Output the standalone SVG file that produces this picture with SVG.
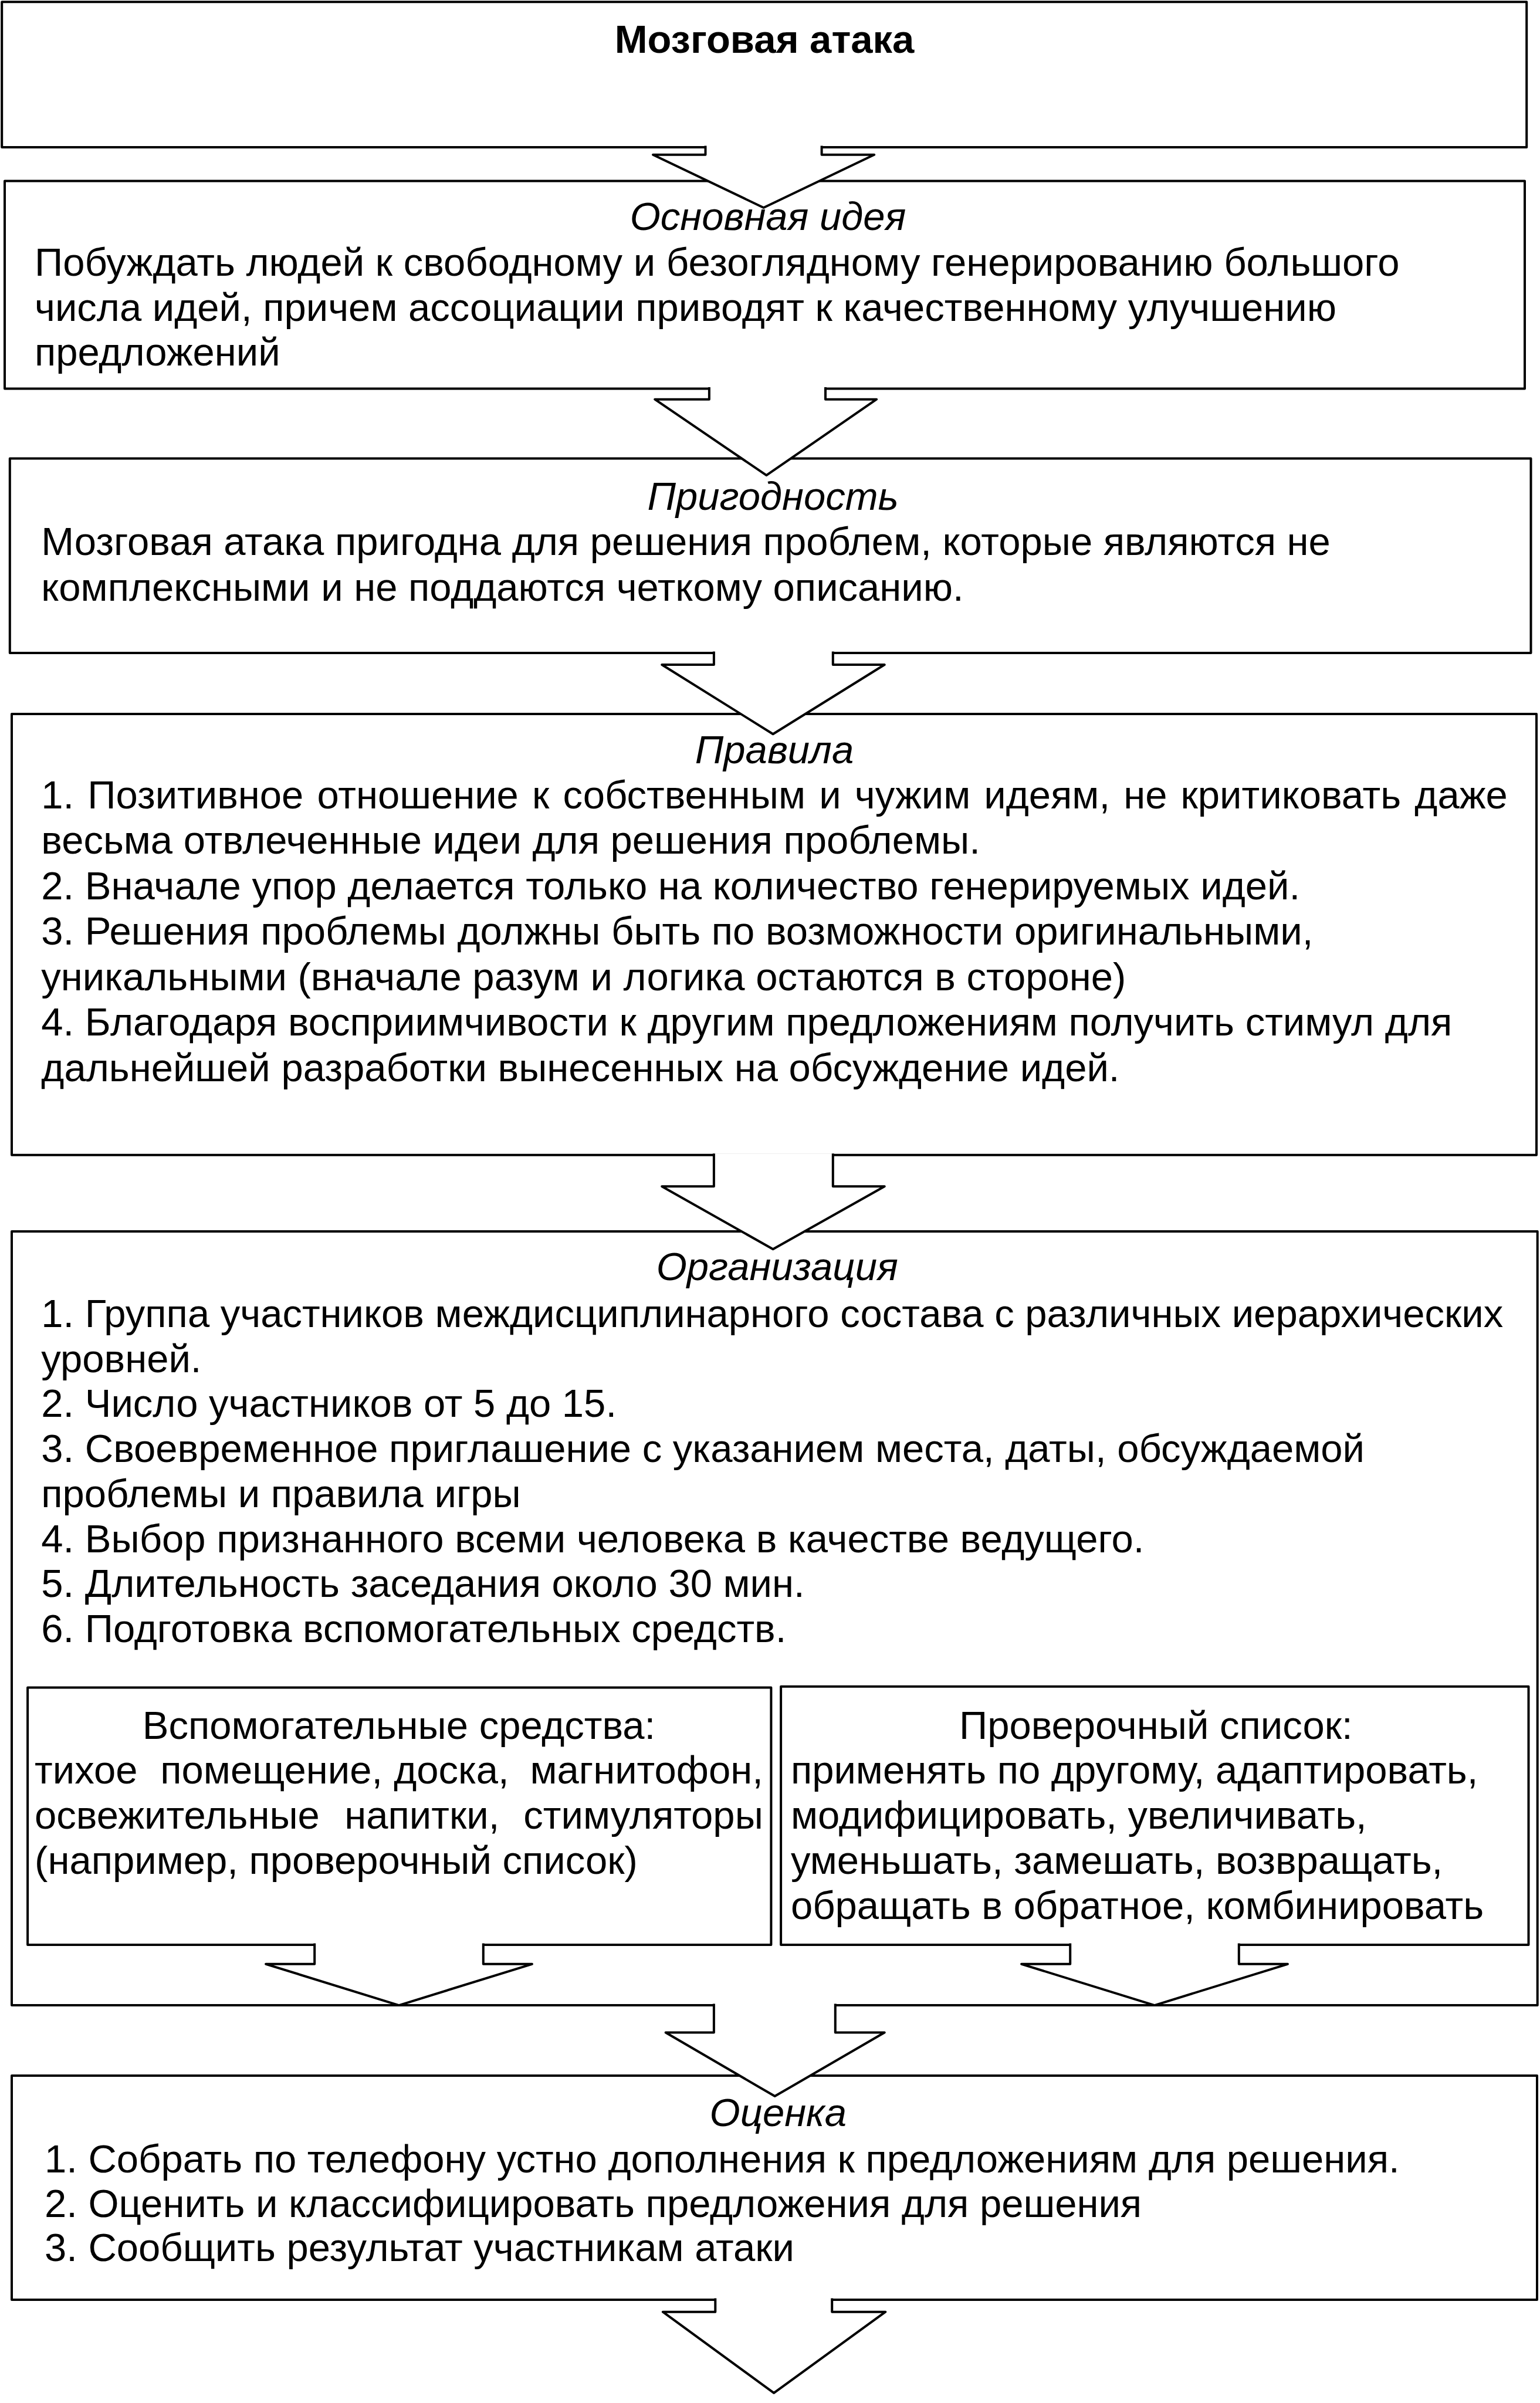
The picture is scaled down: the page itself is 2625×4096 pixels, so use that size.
<svg xmlns="http://www.w3.org/2000/svg" width="2625" height="4096" viewBox="0 0 2625 4096">
<style>
.box{fill:#fff;stroke:#000;stroke-width:4;stroke-linejoin:round}
.arr{fill:#fff;stroke:#000;stroke-width:4;stroke-linejoin:round}
text{font-family:"Liberation Sans",Arial,sans-serif;font-size:67px;fill:#000}
.b{font-weight:bold}
.i{font-style:italic}
.c{text-anchor:middle}
</style>
<rect width="2625" height="4096" fill="#fff"/>
<g id="n1"><rect class="box" x="3.2" y="3.2" width="2599" height="247.7"/>
<text class="b c" x="1303" y="89.5">Мозговая атака</text></g>
<g id="n2"><rect class="box" x="8" y="308.4" width="2591" height="354"/>
<text class="i c" x="1309" y="392.3">Основная идея</text>
<text x="59" y="469.8">Побуждать людей к свободному и безоглядному генерированию большого</text>
<text x="59" y="546.5">числа идей, причем ассоциации приводят к качественному улучшению</text>
<text x="59" y="623.2">предложений</text></g>
<g id="n3"><rect class="box" x="16.8" y="781.4" width="2592.7" height="331.6"/>
<text class="i c" x="1317.6" y="868.5">Пригодность</text>
<text x="70.3" y="946">Мозговая атака пригодна для решения проблем, которые являются не</text>
<text x="70.3" y="1023.5">комплексными и не поддаются четкому описанию.</text></g>
<g id="n4"><rect class="box" x="20" y="1216.9" width="2599" height="751.8"/>
<text class="i c" x="1320" y="1300.8">Правила</text>
<text x="70.3" y="1377.5" word-spacing="4.5">1. Позитивное отношение к собственным и чужим идеям, не критиковать даже</text>
<text x="70.3" y="1455">весьма отвлеченные идеи для решения проблемы.</text>
<text x="70.3" y="1532.5">2. Вначале упор делается только на количество генерируемых идей.</text>
<text x="70.3" y="1610">3. Решения проблемы должны быть по возможности оригинальными,</text>
<text x="70.3" y="1687.5">уникальными (вначале разум и логика остаются в стороне)</text>
<text x="70.3" y="1765">4. Благодаря восприимчивости к другим предложениям получить стимул для</text>
<text x="70.3" y="1842.5">дальнейшей разработки вынесенных на обсуждение идей.</text></g>
<g id="n5"><rect class="box" x="20" y="2099" width="2600.7" height="1319.1"/>
<text class="i c" x="1324.7" y="2182.1">Организация</text>
<text x="70.3" y="2262">1. Группа участников междисциплинарного состава с различных иерархических</text>
<text x="70.3" y="2338.7">уровней.</text>
<text x="70.3" y="2415.4">2. Число участников от 5 до 15.</text>
<text x="70.3" y="2492.1">3. Своевременное приглашение с указанием места, даты, обсуждаемой</text>
<text x="70.3" y="2568.8">проблемы и правила игры</text>
<text x="70.3" y="2645.5">4. Выбор признанного всеми человека в качестве ведущего.</text>
<text x="70.3" y="2722.2">5. Длительность заседания около 30 мин.</text>
<text x="70.3" y="2798.9">6. Подготовка вспомогательных средств.</text></g>
<g id="n5a"><rect class="box" x="47.1" y="2876.4" width="1267.3" height="438.7"/>
<text class="c" x="680" y="2963.5">Вспомогательные средства:</text>
<text y="3040"><tspan x="59.1">тихое</tspan> <tspan x="273.3">помещение,</tspan> <tspan x="671.2">доска,</tspan> <tspan x="1300.8" text-anchor="end">магнитофон,</tspan></text>
<text y="3117"><tspan x="59.1">освежительные</tspan> <tspan x="587.3">напитки,</tspan> <tspan x="1300.8" text-anchor="end">стимуляторы</tspan></text>
<text x="59.1" y="3194">(например, проверочный список)</text></g>
<g id="n5b"><rect class="box" x="1331.1" y="2874.8" width="1274.4" height="440.3"/>
<text class="c" x="1970.3" y="2963.5">Проверочный список:</text>
<text x="1347.9" y="3040">применять по другому, адаптировать,</text>
<text x="1347.9" y="3117">модифицировать, увеличивать,</text>
<text x="1347.9" y="3194">уменьшать, замешать, возвращать,</text>
<text x="1347.9" y="3271">обращать в обратное, комбинировать</text></g>
<g id="n6"><rect class="box" x="20" y="3538" width="2600" height="381.9"/>
<text class="i c" x="1326.3" y="3624.3">Оценка</text>
<text x="75.9" y="3702.6">1. Собрать по телефону устно дополнения к предложениям для решения.</text>
<text x="75.9" y="3778.5">2. Оценить и классифицировать предложения для решения</text>
<text x="75.9" y="3853.6">3. Сообщить результат участникам атаки</text></g>
<g id="connectors">
<path class="arr" d="M1202.5,248.4 V263.7 H1113 L1301.6,354 L1490.1,263.7 H1400.6 V248.4"/>
<path class="arr" d="M1208.9,659.9 V680.7 H1116.2 L1306.4,810.2 L1494.1,680.7 H1407 V659.9"/>
<path class="arr" d="M1216.9,1110.5 V1133 H1128.2 L1317.6,1251.2 L1507.7,1133 H1419.8 V1110.5"/>
<path class="arr" d="M1216.9,1966.2 V2022.3 H1128.2 L1317.6,2129.3 L1507.7,2022.3 H1419.8 V1966.2"/>
<path class="arr" d="M536.2,3312.6 V3347.8 H453.1 L680,3418.1 L906.9,3347.8 H823.8 V3312.6"/>
<path class="arr" d="M1824.2,3312.6 V3347.8 H1741.1 L1968,3418.1 L2194.9,3347.8 H2111.8 V3312.6"/>
<path class="arr" d="M1216.9,3415.6 V3464.5 H1134.6 L1320.7,3573.1 L1507.7,3464.5 H1423.8 V3415.6"/>
<path class="arr" d="M1219.3,3917.4 V3940.7 H1129.8 L1319.1,4078.9 L1509.3,3940.7 H1418.2 V3917.4"/>
</g>
</svg>
